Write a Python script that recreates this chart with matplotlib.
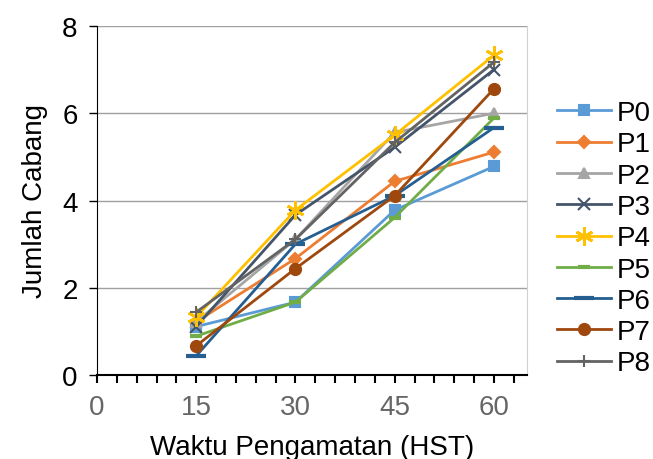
import matplotlib.pyplot as plt

plt.rcParams['font.family'] = ['Liberation Sans', 'DejaVu Sans']

hst = [15, 30, 45, 60]
p0 = [1.11, 1.67, 3.78, 4.78]
p1 = [1.22, 2.67, 4.44, 5.11]
p2 = [1.22, 3.11, 5.56, 6.00]
p3 = [1.11, 3.67, 5.22, 7.00]
p4 = [1.33, 3.78, 5.50, 7.33]
p5 = [0.89, 1.67, 3.61, 5.89]
p6 = [0.44, 3.00, 4.11, 5.67]
p7 = [0.67, 2.44, 4.11, 6.56]
p8 = [1.44, 3.11, 5.33, 7.17]

names = ['P0', 'P1', 'P2', 'P3', 'P4', 'P5', 'P6', 'P7', 'P8']
series = [p0, p1, p2, p3, p4, p5, p6, p7, p8]
colors = ['#5B9BD5', '#ED7D31', '#A5A5A5', '#44546A', '#FFC000',
          '#70AD47', '#255E91', '#9E480E', '#636363']
markers = ['s', 'D', '^', 'x', '*', '_', '_', 'o', '+']
msizes = [7, 6, 7, 8, 13, 9, 14, 8, 9]

fig = plt.figure(figsize=(6.53, 4.60), dpi=100)
ax = fig.add_axes([97 / 653, 84 / 460, 430 / 653, 349 / 460])

for name, ys, c, m, ms in zip(names, series, colors, markers, msizes):
    mew = 3 if m == '_' else 1.5
    if m == '*':
        # asterisk-like marker
        m = (6, 2, 0)
        mew = 2
    ax.plot(hst, ys, color=c, lw=2, marker=m, ms=ms, mew=mew,
            mec=c, mfc=c, label=name)

ax.set_xlim(0, 65)
ax.set_ylim(0, 8)
ax.set_xticks([0, 15, 30, 45, 60])
ax.set_xticks(range(0, 64, 3), minor=True)
ax.set_yticks([0, 2, 4, 6, 8])
ax.yaxis.grid(True, color='#A0A0A0', lw=1)
ax.set_axisbelow(True)

ax.spines['top'].set_visible(False)
ax.spines['right'].set_color('#D0D0D0')
ax.spines['left'].set_color('black')
ax.spines['bottom'].set_color('black')
ax.spines['bottom'].set_linewidth(1.5)

ax.tick_params(axis='x', which='both', direction='out', length=6, width=1.5,
               labelsize=20, labelcolor='#666666', pad=8)
ax.tick_params(axis='y', direction='out', length=6, width=1,
               labelsize=20, pad=8)

ax.set_xlabel('Waktu Pengamatan (HST)', fontsize=20, labelpad=10)
ax.set_ylabel('Jumlah Cabang', fontsize=20, labelpad=10)

fig.legend(loc='upper left', bbox_to_anchor=(546 / 653, 1 - 90 / 460),
           frameon=False, fontsize=20, handlelength=1.95, handletextpad=0.18,
           labelspacing=0.19, borderaxespad=0)

fig.savefig('out.png', dpi=100)
